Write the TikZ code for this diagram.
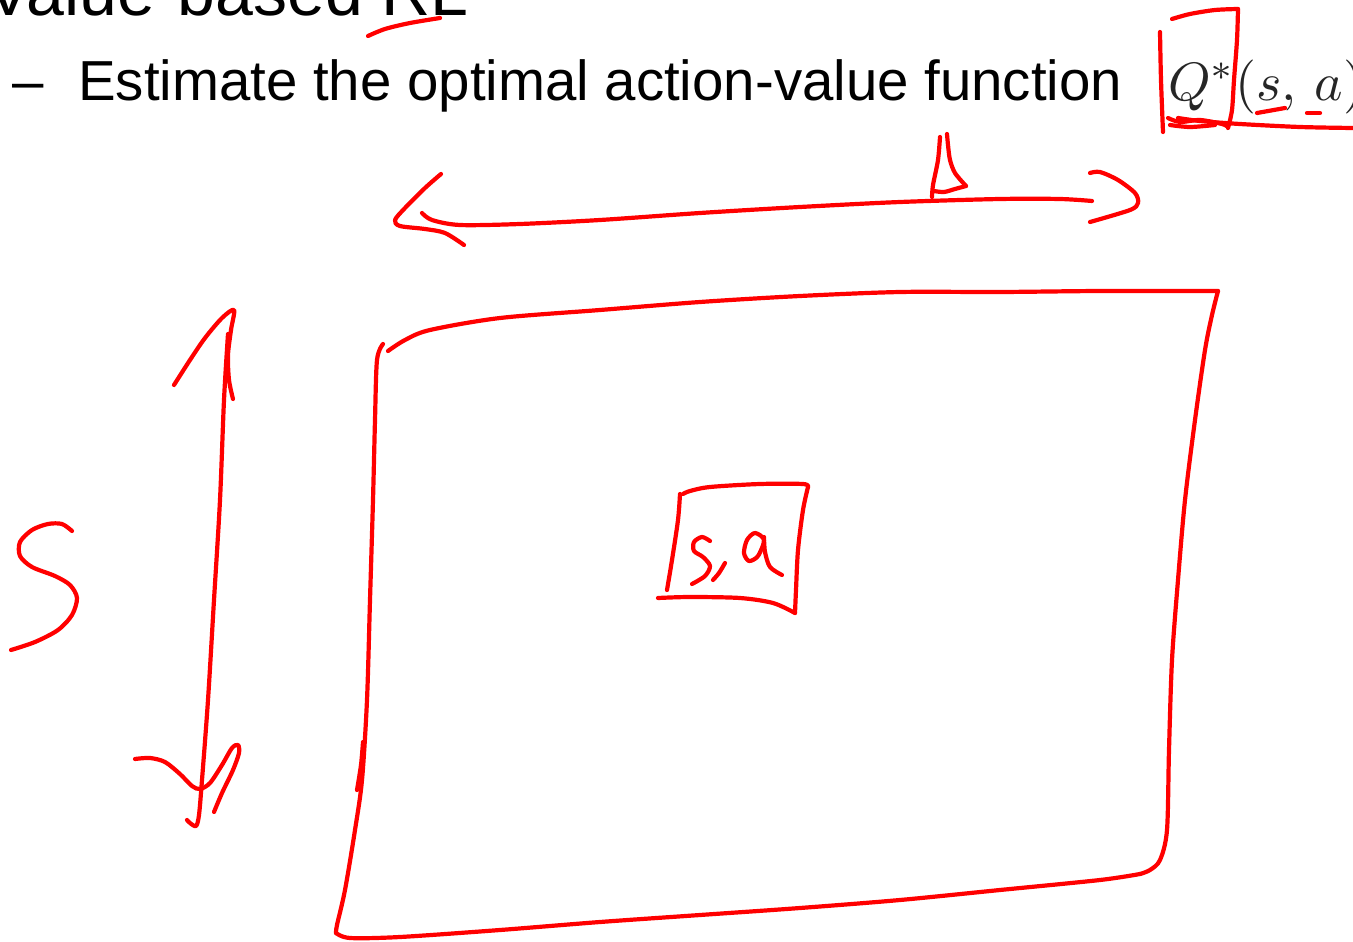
\documentclass[tikz,border=0pt]{standalone}
\usepackage{fontspec}
\setmainfont{Liberation Sans}
\begin{document}
\begin{tikzpicture}[x=1pt,y=-1pt,
  pen/.style={draw=red, line width=4.2pt, line cap=round, line join=round},
  txt/.style={anchor=base west, inner sep=0pt, text=black}]
\useasboundingbox (0,0) rectangle (1353,942);
\clip (0,0) rectangle (1353,942);
% slide text
\node[txt, font=\fontsize{68}{72}\selectfont] (title) at (-14,16) {Value-based RL};
\node[txt, font=\fontsize{56.4}{60}\selectfont] (dash) at (12,101) {–};
\node[txt, font=\fontsize{56.4}{60}\selectfont] (bullet) at (78,101) {Estimate the optimal action-value function};
\node[txt, text=black!85] (q) at (1168,100) {\scalebox{5.4}{$Q^{*}(s,\,a)$}};
% underline RL
\draw[pen] plot[smooth] coordinates {(368,36) (385,29) (410,23) (440,18)};
% box around Q*
\draw[pen] plot[smooth] coordinates {(1172,19) (1190,14) (1215,10) (1238,9)};
\draw[pen] plot[smooth] coordinates {(1238,9) (1237,40) (1234,80) (1232,110) (1228,128)};
\draw[pen] plot[smooth] coordinates {(1160,32) (1161,80) (1163,132)};
\draw[pen] plot[smooth] coordinates {(1168,118) (1180,122) (1200,120) (1222,124) (1228,127)};
\draw[pen] plot[smooth] coordinates {(1170,125) (1190,127) (1215,125)};
\draw[pen] plot[smooth] coordinates {(1178,118) (1200,121) (1240,124) (1300,127) (1353,128)};
\draw[pen] (1257,113) -- (1285,108);
\draw[pen] (1307,113) -- (1320,113);
% horizontal double arrow
\draw[pen] plot[smooth] coordinates {(422,213) (432,220) (460,225) (520,224) (600,220) (700,213) (800,207) (900,202) (1000,199) (1060,199) (1092,201)};
\draw[pen] plot[smooth] coordinates {(441,174) (425,188) (405,208) (395,220) (400,226) (425,229) (445,233) (464,245)};
\draw[pen] plot[smooth] coordinates {(1090,173) (1100,172) (1118,180) (1135,193) (1138,203) (1130,210) (1090,222)};
% small triangle mark
\draw[pen] plot[smooth] coordinates {(932,197) (933,185) (938,160) (940,137)};
\draw[pen] plot[smooth] coordinates {(947,134) (948,145) (950,160) (955,173) (966,186)};
\draw[pen] plot[smooth] coordinates {(966,186) (955,189) (944,192) (934,191)};
% big table
\draw[pen] plot[smooth] coordinates {(388,351) (405,340) (430,330) (500,318) (600,310) (700,302) (800,296) (900,292) (1000,292) (1100,291) (1218,291)};
\draw[pen] plot[smooth] coordinates {(1218,291) (1212,315) (1205,350) (1195,420) (1185,500) (1178,580) (1172,660) (1169,750) (1167,830) (1160,860) (1150,870) (1140,874)};
\draw[pen] plot[smooth] coordinates {(1140,874) (1100,880) (1000,890) (900,900) (800,908) (700,915) (600,922) (500,930) (400,937) (350,938) (336,933)};
\draw[pen] plot[smooth] coordinates {(383,344) (377,360) (375,420) (373,500) (370,600) (367,700) (362,780) (355,830) (345,890) (337,925) (336,933)};
\draw[pen] plot[smooth] coordinates {(363,742) (361,765) (357,790)};
% small cell s,a
\draw[pen] plot[smooth] coordinates {(683,494) (690,491) (710,487) (760,484) (803,484) (808,487)};
\draw[pen] plot[smooth] coordinates {(808,487) (803,510) (798,550) (796,590) (795,613)};
\draw[pen] plot[smooth] coordinates {(658,598) (690,597) (740,598) (773,603) (795,613)};
\draw[pen] plot[smooth] coordinates {(680,494) (678,520) (672,560) (667,590)};
\draw[pen] plot[smooth] coordinates {(710,541) (702,537) (694,542) (694,551) (703,557) (710,566) (705,576) (692,584)};
\draw[pen] plot[smooth] coordinates {(725,563) (719,573) (713,580)};
\draw[pen] plot[smooth cycle] coordinates {(764,540) (755,533) (747,540) (744,553) (749,561) (758,556)};
\draw[pen] plot[smooth] coordinates {(764,537) (765,552) (770,567) (782,575)};
% vertical double arrow
\draw[pen] plot[smooth] coordinates {(228,334) (224,400) (220,500) (214,600) (208,700) (202,780) (199,815) (196,826) (190,823) (187,820)};
\draw[pen] plot[smooth] coordinates {(174,385) (190,360) (205,338) (222,318) (234,310) (231,330) (228,355) (229,380) (233,399)};
\draw[pen] plot[smooth] coordinates {(135,759) (150,758) (165,762) (180,774) (192,786) (200,789) (210,783) (222,765) (232,748) (238,745) (239,753) (233,770) (222,793) (214,812)};
% letter S
\draw[pen] plot[smooth] coordinates {(72,531) (62,524) (48,524) (32,530) (20,542) (20,556) (32,567) (55,576) (70,585) (77,598) (72,615) (58,630) (35,642) (11,650)};
\end{tikzpicture}
\end{document}
